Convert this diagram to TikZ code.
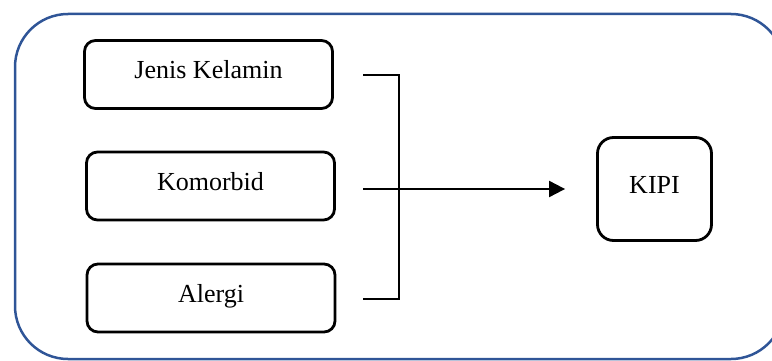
\documentclass[tikz,border=0pt]{standalone}
\usepackage{fontspec}
\setmainfont{Liberation Serif}
\usetikzlibrary{positioning,arrows.meta}
\definecolor{frameblue}{RGB}{47,85,151}

\begin{document}
\begin{tikzpicture}[
    x=1pt, y=-1pt,
    font=\fontsize{26}{30}\selectfont,
    frame/.style={draw=frameblue, line width=2.5pt, rounded corners=53pt, minimum width=769pt, minimum height=345pt},
    var/.style={draw, line width=2.8pt, rounded corners=11pt, minimum width=248pt, minimum height=68pt, text height=18pt, text depth=10pt},
    result/.style={draw, line width=2.8pt, rounded corners=16pt, minimum width=114pt, minimum height=103pt, text height=18pt, text depth=10pt},
    link/.style={line width=2pt},
    arr/.style={-{Triangle[length=16pt,width=16pt]}, line width=2pt},
  ]
  \useasboundingbox (0,0) rectangle (772,361);
  \node[frame] (frame) at (399.5,186.5) {};
  % factors
  \node[var] (jk) at (208.5,74.5) {Jenis Kelamin};
  \node[var] (kom) at (210.5,186) {Komorbid};
  \node[var] (alg) at (211,298) {Alergi};
  % outcome
  \node[result] (kipi) at (654.5,189) {KIPI};
  % connectors
  \coordinate (jk-in) at (363,75);
  \coordinate (kom-in) at (363,189);
  \coordinate (alg-in) at (363,299);
  \coordinate (bus) at (399,189);
  \draw[link] (jk-in) -| (bus);
  \draw[link] (alg-in) -| (bus);
  \draw[link] (kom-in) -- (bus);
  \draw[arr] (bus) -- ([xshift=-31pt]kipi.west);
\end{tikzpicture}
\end{document}
